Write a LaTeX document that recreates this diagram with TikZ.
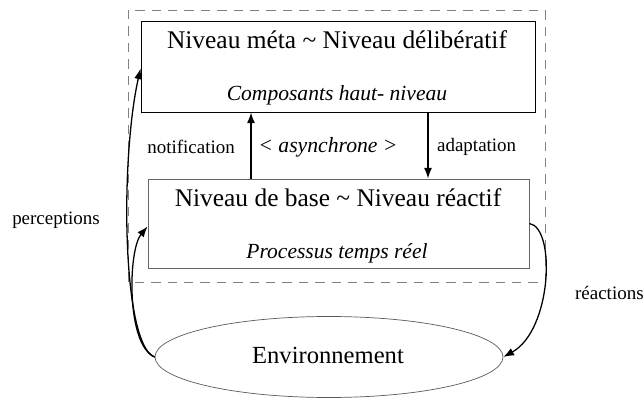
\documentclass[tikz,border=0pt]{standalone}
\usepackage{fontspec}
\setmainfont{Liberation Serif}
\usetikzlibrary{arrows.meta,shapes.geometric,calc}
\begin{document}
\begin{tikzpicture}[x=0.03cm, y=-0.03cm,
    arr/.style = {-{Latex[length=3.2mm,width=2.4mm]}, line width=1.1pt},
    level/.style = {draw, rectangle, line width=0.8pt},
    big/.style = {font=\fontsize{21.7}{26}\selectfont},
    sub/.style = {font=\fontsize{18.4}{22}\selectfont\itshape},
    small/.style = {font=\fontsize{16.2}{19}\selectfont}]
    \useasboundingbox (0,0) rectangle (643,399);
    % dashed frame
    \draw [gray, dashed, dash pattern=on 8pt off 6pt, line width=0.7pt] (128,10) rectangle (545,282);
    % the two levels
    \node [level, minimum width=11.82cm, minimum height=2.73cm] (meta) at (338,66.5) {};
        \node [big] (metatitle) at (337,40) {Niveau méta \char`\~{} Niveau délibératif};
        \node [sub] (metasub) at (337,95) {Composants haut- niveau};
    \node [level, draw=gray!80!black, minimum width=11.43cm, minimum height=2.67cm] (base) at (338.5,223.5) {};
        \node [big] (basetitle) at (338,198) {Niveau de base \char`\~{} Niveau réactif};
        \node [sub] (basesub) at (337,253) {Processus temps réel};
    \node [draw, gray!70!black, ellipse, line width=0.6pt, minimum width=10.44cm, minimum height=2.43cm] (env) at (329,357) {};
        \node [font=\fontsize{21}{25}\selectfont] (envtext) at (328,355) {Environnement};
    % vertical links
    \coordinate (n) at (251,0);
    \coordinate (a) at (428,0);
    \draw [arr] (n |- base.north) -- (n |- meta.south);
    \draw [arr] (a |- meta.south) -- (a |- base.north);
        \node [small, anchor=east] (notif) at (239,147) {notification};
        \node [font=\fontsize{18.5}{22}\selectfont\itshape] (async) at (328,147) {< asynchrone >};
        \node [small, anchor=west] (adapt) at (433,147) {adaptation};
    % loops with the environment
    \draw [arr] (env.west) .. controls (122,345) and (120,160) .. ($(meta.west)+(0,2)$);
    \draw [arr] (env.west) .. controls (126,345) and (128,250) .. ($(base.west)+(0,3)$);
        \node [small] (percep) at (56,220) {perceptions};
    \draw [arr] (base.east) .. controls (556,228) and (552,330) .. (env.east);
        \node [small, anchor=west] (react) at (571,293) {réactions};
\end{tikzpicture}
\end{document}
